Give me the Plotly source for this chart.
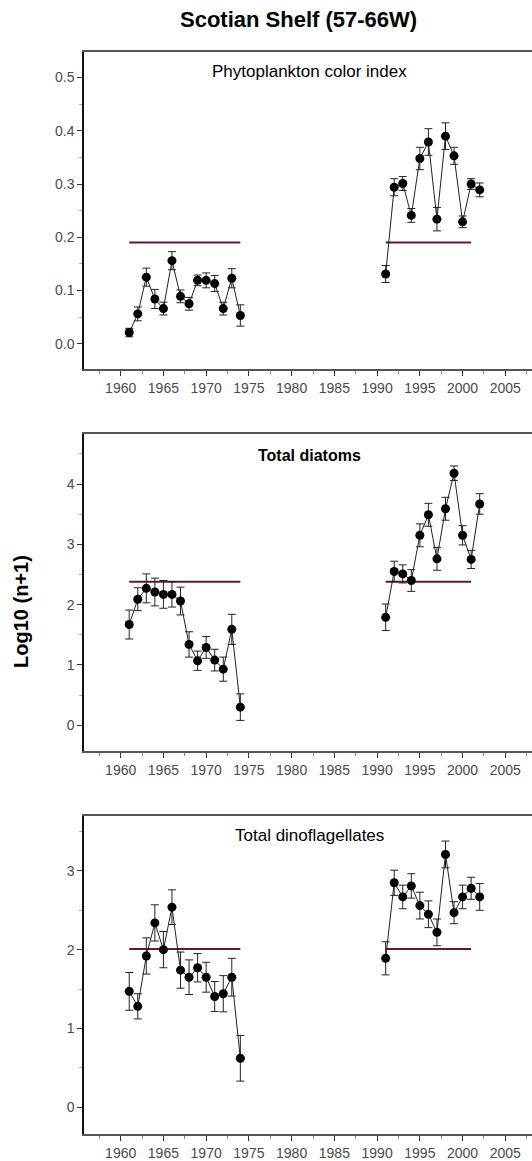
import plotly.graph_objects as go

# ---------------- data ----------------
years_a = list(range(1961, 1975))
years_b = list(range(1991, 2003))

pci_a = [0.021, 0.056, 0.125, 0.084, 0.066, 0.156, 0.089, 0.075, 0.119, 0.119, 0.113, 0.066, 0.123, 0.053]
pci_a_err = [0.008, 0.013, 0.017, 0.018, 0.012, 0.017, 0.012, 0.012, 0.010, 0.014, 0.015, 0.012, 0.018, 0.020]
pci_b = [0.131, 0.294, 0.301, 0.241, 0.348, 0.379, 0.234, 0.390, 0.353, 0.229, 0.300, 0.289]
pci_b_err = [0.016, 0.016, 0.013, 0.013, 0.021, 0.025, 0.022, 0.025, 0.016, 0.011, 0.010, 0.013]

dia_a = [1.67, 2.09, 2.27, 2.21, 2.17, 2.17, 2.06, 1.34, 1.07, 1.29, 1.08, 0.93, 1.59, 0.30]
dia_a_err = [0.24, 0.19, 0.24, 0.23, 0.23, 0.21, 0.23, 0.21, 0.16, 0.18, 0.18, 0.20, 0.25, 0.22]
dia_b = [1.79, 2.55, 2.51, 2.40, 3.15, 3.49, 2.76, 3.59, 4.18, 3.15, 2.75, 3.67]
dia_b_err = [0.22, 0.17, 0.15, 0.18, 0.19, 0.19, 0.19, 0.19, 0.12, 0.16, 0.15, 0.17]

din_a = [1.47, 1.28, 1.92, 2.34, 2.00, 2.54, 1.74, 1.65, 1.77, 1.65, 1.405, 1.44, 1.65, 0.62]
din_a_err = [0.24, 0.16, 0.23, 0.23, 0.23, 0.22, 0.23, 0.22, 0.18, 0.19, 0.19, 0.23, 0.24, 0.29]
din_b = [1.89, 2.85, 2.67, 2.81, 2.56, 2.45, 2.22, 3.21, 2.47, 2.67, 2.78, 2.67]
din_b_err = [0.21, 0.16, 0.15, 0.155, 0.17, 0.17, 0.17, 0.17, 0.14, 0.15, 0.14, 0.17]

ref_levels = [0.19, 2.38, 2.01]
ref_span_a = [1961, 1974]
ref_span_b = [1991, 2001]

panel_titles = ["Phytoplankton color index", "Total diatoms", "Total dinoflagellates"]
main_title = "Scotian Shelf (57-66W)"
y_title = "Log10 (n+1)"

# ---------------- layout geometry ----------------
W, H = 532, 1161
x_dom = [84 / W, 1.0]
x_range = [1955.71, 2008.12]
y_doms = [
    [1 - 370 / H, 1 - 51.7 / H],
    [1 - 752.7 / H, 1 - 435 / H],
    [1 - 1136 / H, 1 - 817.3 / H],
]
y_ranges = [[-0.0482, 0.5488], [-0.434, 4.826], [-0.343, 3.70]]
y_dticks = [0.1, 1, 1]
y_formats = [".1f", "d", "d"]
title_y_px = [71.7, 456.7, 836.7]
title_bold = [False, True, False]

series = [
    (pci_a, pci_a_err, pci_b, pci_b_err),
    (dia_a, dia_a_err, dia_b, dia_b_err),
    (din_a, din_a_err, din_b, din_b_err),
]

fig = go.Figure()
FONT = "Liberation Sans, Arial, sans-serif"
REF_COLOR = "#5e1a3c"

for i, (va, ea, vb, eb) in enumerate(series):
    xa = "x" if i == 0 else f"x{i+1}"
    ya = "y" if i == 0 else f"y{i+1}"
    # reference lines
    for span in (ref_span_a, ref_span_b):
        fig.add_trace(go.Scatter(
            x=span, y=[ref_levels[i]] * 2, mode="lines",
            line=dict(color=REF_COLOR, width=2), xaxis=xa, yaxis=ya,
            showlegend=False, hoverinfo="skip"))
    # data series
    for xs, vs, es in ((years_a, va, ea), (years_b, vb, eb)):
        fig.add_trace(go.Scatter(
            x=xs, y=vs, mode="lines+markers",
            line=dict(color="#222222", width=1),
            marker=dict(color="black", size=9),
            error_y=dict(type="data", array=es, visible=True,
                         color="#222222", thickness=1, width=4),
            xaxis=xa, yaxis=ya, showlegend=False))

axis_common = dict(
    showgrid=False, zeroline=False, showline=True, linewidth=1.5,
    ticks="outside", ticklen=5, tickwidth=1, tickcolor="#333",
    tickfont=dict(family=FONT, size=14, color="#4a4a4a"),
)

layout = dict(
    width=W, height=H, margin=dict(l=0, r=0, t=0, b=0),
    paper_bgcolor="white", plot_bgcolor="white", showlegend=False,
)
for i in range(3):
    sfx = "" if i == 0 else str(i + 1)
    layout["xaxis" + sfx] = dict(
        axis_common, domain=x_dom, range=x_range, anchor="y" + sfx,
        tick0=1960, dtick=5, linecolor="#555", mirror=True,
        minor=dict(ticks="outside", ticklen=3, dtick=2.5, tick0=1957.5, tickcolor="#888"),
    )
    layout["yaxis" + sfx] = dict(
        axis_common, domain=y_doms[i], range=y_ranges[i], anchor="x" + sfx,
        dtick=y_dticks[i], tick0=0, tickformat=y_formats[i], linecolor="#111",
        minor=dict(ticks="outside", ticklen=3, dtick=y_dticks[i] / 2, tickcolor="#aaa"),
    )

annotations = []
for i in range(3):
    t = panel_titles[i]
    annotations.append(dict(
        text=f"<b>{t}</b>" if title_bold[i] else t,
        x=309 / W, y=1 - title_y_px[i] / H, xref="paper", yref="paper",
        xanchor="center", yanchor="middle", showarrow=False,
        font=dict(family=FONT, size=17 if not title_bold[i] else 16, color="black")))
annotations.append(dict(
    text=f"<b>{main_title}</b>", x=298 / W, y=1 - 20 / H, xref="paper", yref="paper",
    xanchor="center", yanchor="middle", showarrow=False,
    font=dict(family=FONT, size=22, color="black")))
annotations.append(dict(
    text=f"<b>{y_title}</b>", x=21 / W, y=1 - 613 / H, xref="paper", yref="paper",
    xanchor="center", yanchor="middle", showarrow=False, textangle=-90,
    font=dict(family=FONT, size=20, color="black")))
layout["annotations"] = annotations

fig.update_layout(**layout)
fig.write_html("out.html")
